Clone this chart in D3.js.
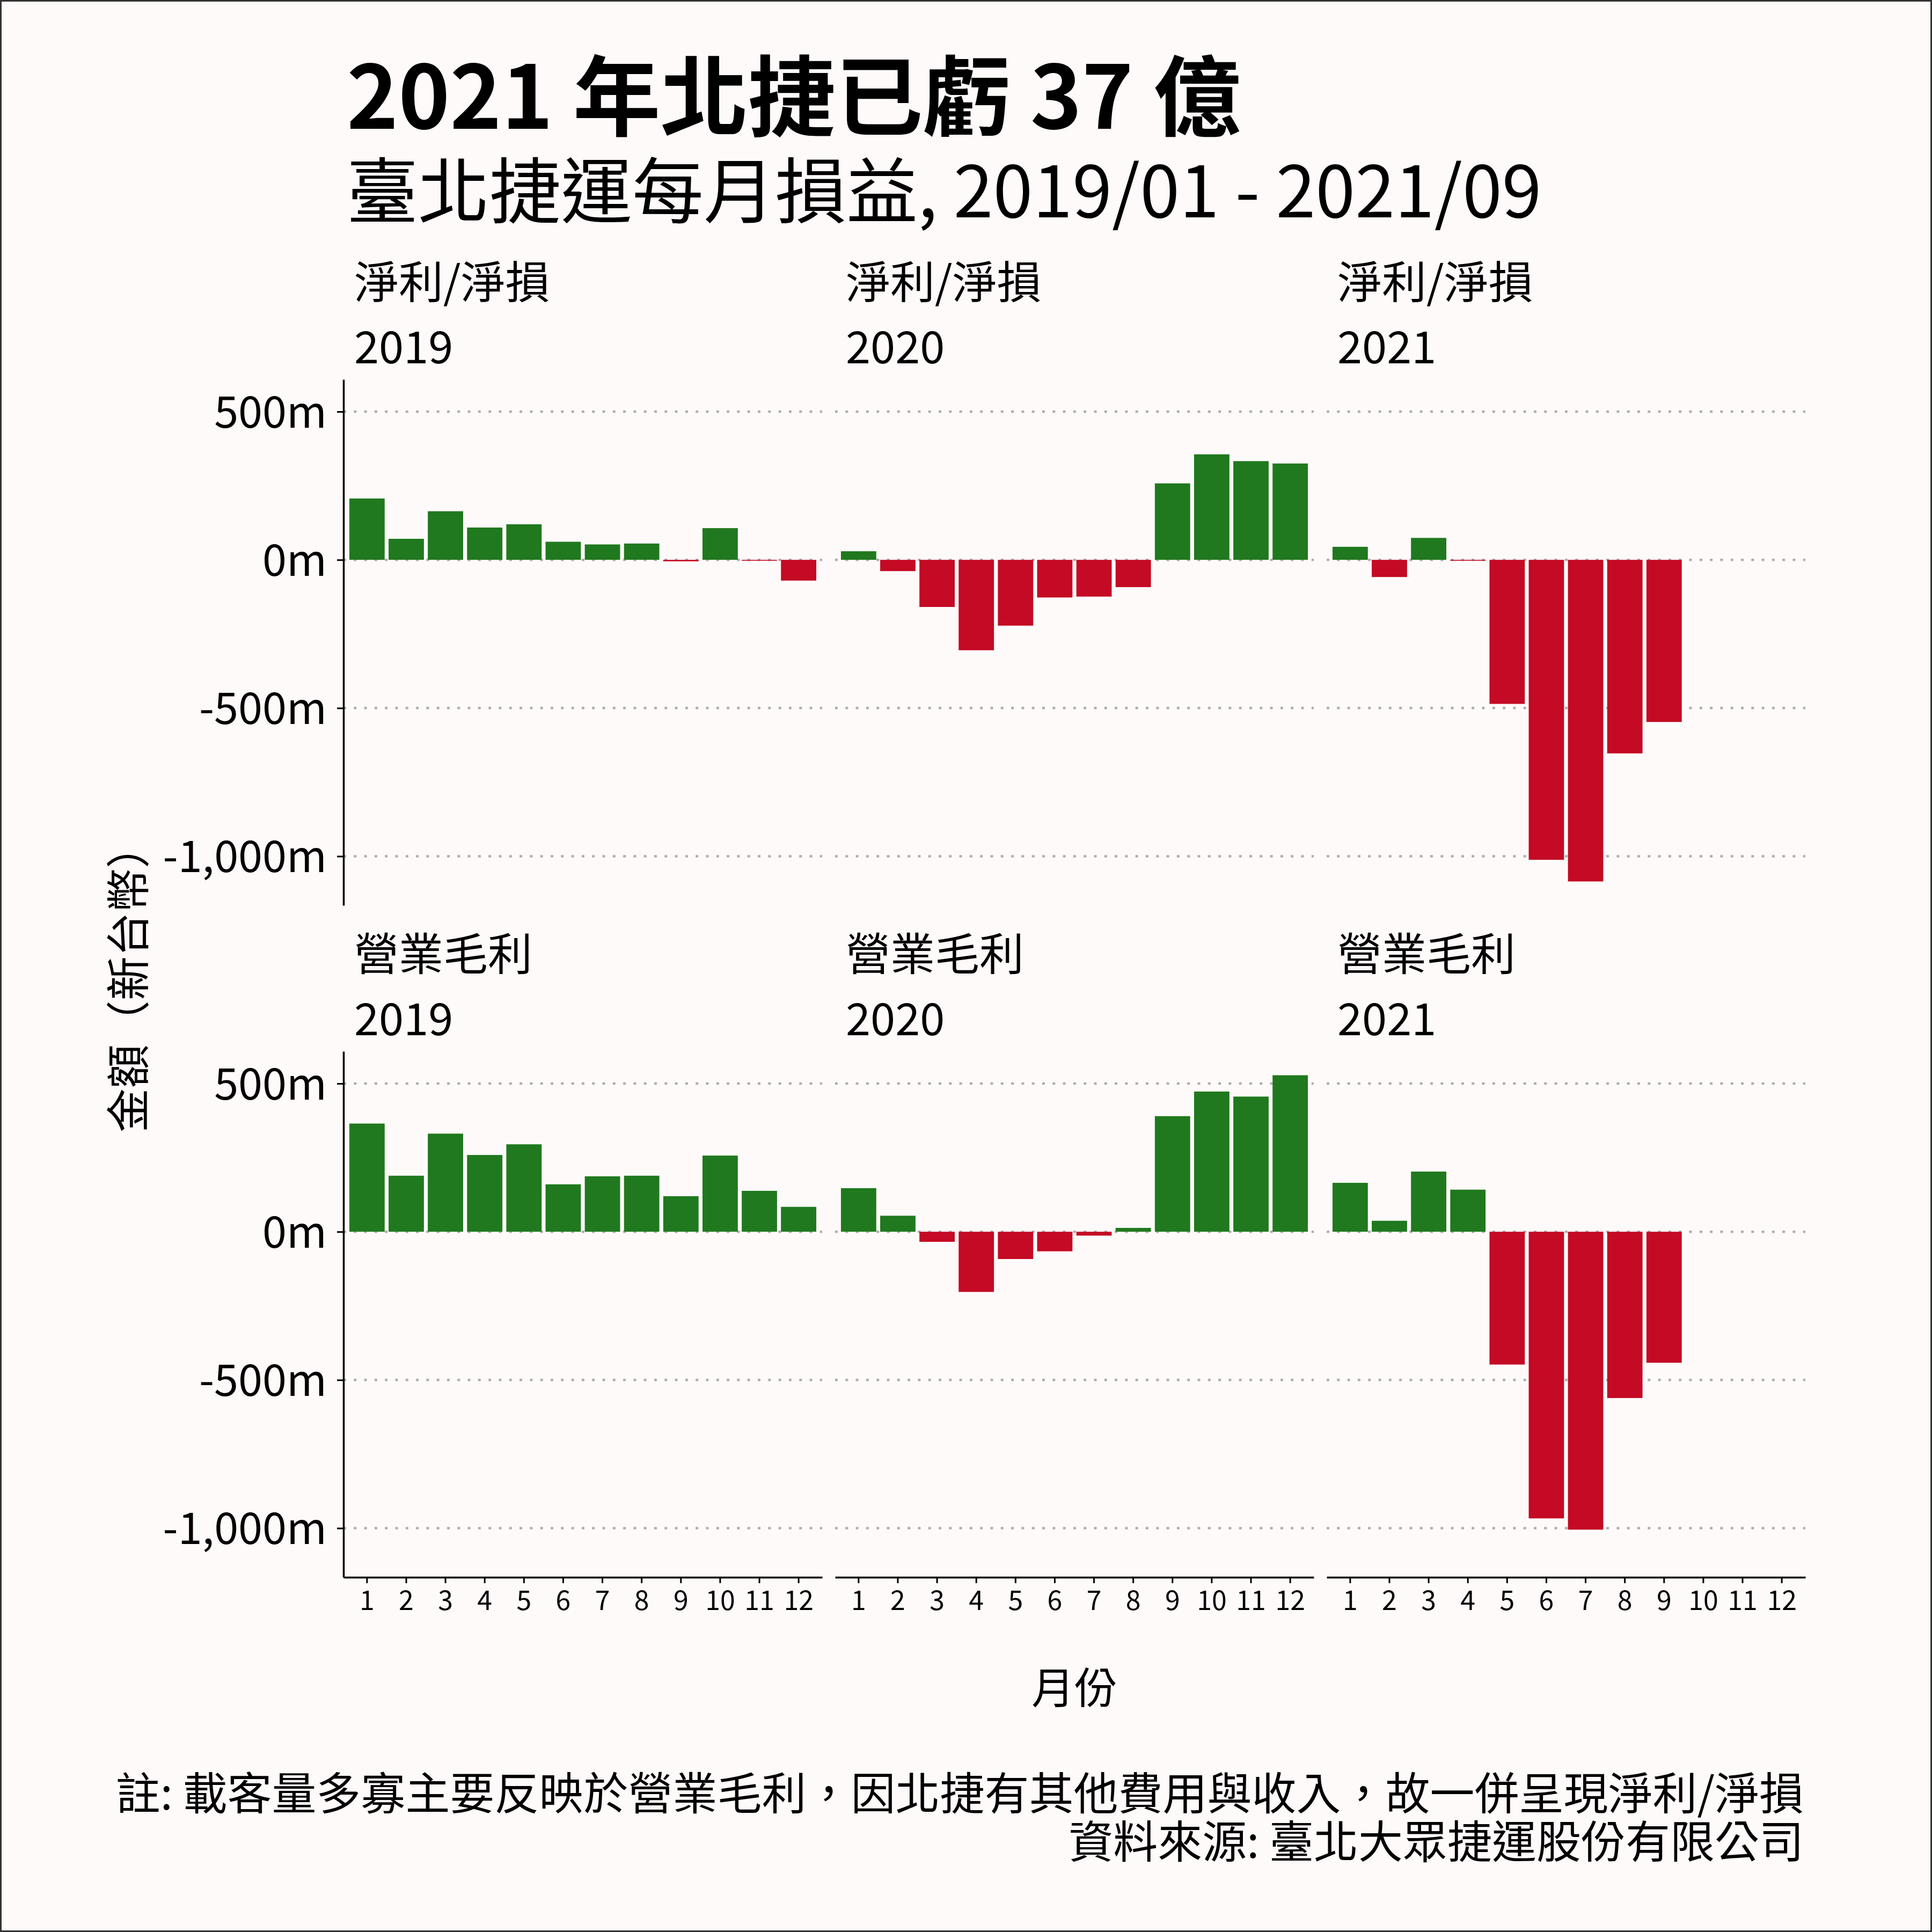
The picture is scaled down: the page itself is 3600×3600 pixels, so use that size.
<!DOCTYPE html>
<html>
<head>
<meta charset="utf-8">
<script src="https://cdn.jsdelivr.net/npm/d3@7"></script>
<style>
  body { margin: 0; background: #fffafa; }
  text { font-family: "Noto Sans CJK TC", "Noto Sans", sans-serif; fill: #000; }
  .axis path, .axis line { stroke: #000; }
</style>
</head>
<body>
<div id="chart"></div>
<script>

// monthly values, million NTD
const months = ["1", "2", "3", "4", "5", "6", "7", "8", "9", "10", "11", "12"]
const years = ["2019", "2020", "2021"]
const metrics = ["淨利/淨損", "營業毛利"]

const net2019 = [207, 71, 164, 109, 120, 61, 52, 55, -5, 107, -3, -70]
const net2020 = [29, -38, -159, -305, -222, -127, -124, -92, 258, 356, 333, 325]
const net2021 = [44, -58, 74, -3, -486, -1012, -1085, -653, -547]

const gross2019 = [365, 189, 331, 259, 295, 160, 187, 189, 120, 257, 138, 84]
const gross2020 = [147, 54, -34, -203, -92, -66, -13, 13, 390, 473, 456, 528]
const gross2021 = [165, 37, 203, 142, -448, -967, -1005, -561, -442]

const yTicks = [500, 0, -500, -1000]

const titleText = "2021 年北捷已虧 37 億"
const subtitleText = "臺北捷運每月損益, 2019/01 - 2021/09"
const yTitle = "金額（新台幣）"
const xTitle = "月份"
const captionLines = [
    "註: 載客量多寡主要反映於營業毛利，因北捷有其他費用與收入，故一併呈現淨利/淨損",
    "資料來源: 臺北大眾捷運股份有限公司"
]

const rows = [
    [net2019, net2020, net2021],
    [gross2019, gross2020, gross2021]
]

const W = 3600, H = 3600
const panelLeft = [640, 1556, 2472]
const panelTop = [707, 1959]
const panelW = 892, panelH = 980
const green = "#20791e", red = "#c40a24"

// ggplot style hyphen minus + thousands comma
const loc = d3.formatLocale({decimal: ".", thousands: ",", grouping: [3], currency: ["", ""], minus: "-"})
const fmt = (d) => loc.format(",")(d) + "m"

const svg = d3.select("#chart").append("svg")
    .attr("width", W)
    .attr("height", H)

svg.append("rect")
    .attr("width", W).attr("height", H)
    .attr("fill", "#fffafa")

// shared y domain with 5% expansion, like facet_wrap fixed scales
let allVals = rows.flat(2)
let ext = d3.extent(allVals)
let pad = (ext[1] - ext[0]) * 0.05

function draw_panel(r, c) {
    const vals = rows[r][c]
    const x0 = panelLeft[c], y0 = panelTop[r]

    const x = d3.scaleBand()
        .domain(months)
        .range([x0, x0 + panelW])
        .paddingInner(0.1)
        .paddingOuter(0.15)

    const y = d3.scaleLinear()
        .domain([ext[0] - pad, ext[1] + pad])
        .range([y0 + panelH, y0])

    const g = svg.append("g")

    // dotted grid
    g.selectAll(".grid")
        .data(yTicks).enter()
        .append("line")
        .attr("x1", x0).attr("x2", x0 + panelW)
        .attr("y1", (d) => y(d)).attr("y2", (d) => y(d))
        .attr("stroke", "#aeaeae")
        .attr("stroke-width", 4.5)
        .attr("stroke-dasharray", "5 14.3")

    g.selectAll(".bar")
        .data(vals).enter()
        .append("rect")
        .attr("x", (d, i) => x(months[i]))
        .attr("width", x.bandwidth())
        .attr("y", (d) => y(Math.max(0, d)))
        .attr("height", (d) => Math.abs(y(d) - y(0)))
        .attr("fill", (d) => d >= 0 ? green : red)

    // strip: metric + year
    g.append("text")
        .attr("x", x0 + 20).attr("y", y0 - 151)
        .attr("font-size", 83)
        .text(metrics[r])
    g.append("text")
        .attr("x", x0 + 20).attr("y", y0 - 30)
        .attr("font-size", 83)
        .text(years[c])

    if (c == 0) {
        const ay = g.append("g")
            .attr("class", "axis")
            .attr("transform", "translate(" + x0 + ",0)")
            .call(d3.axisLeft(y).tickValues(yTicks).tickFormat(fmt).tickSize(12).tickSizeOuter(0).tickPadding(19))
        ay.select(".domain").attr("stroke-width", 3.5)
        ay.selectAll(".tick line").attr("stroke-width", 3)
        ay.selectAll(".tick text")
            .attr("font-size", 81)
            .attr("font-family", "Noto Sans CJK TC")
            .attr("fill", "#000")
            .attr("dy", "0.36em")
    }

    if (r == 1) {
        const ax = g.append("g")
            .attr("class", "axis")
            .attr("transform", "translate(0," + (y0 + panelH) + ")")
            .call(d3.axisBottom(x).tickSize(11).tickSizeOuter(0).tickPadding(13))
        ax.select(".domain").attr("stroke-width", 3.5)
        ax.selectAll(".tick line").attr("stroke-width", 3)
        ax.selectAll(".tick text")
            .attr("font-size", 50)
            .attr("font-family", "Noto Sans CJK TC")
            .attr("fill", "#000")
            .attr("dy", "0.73em")
    }
}

for (let r = 0; r < rows.length; r++) {
    for (let c = 0; c < years.length; c++) {
        draw_panel(r, c)
    }
}

// titles
svg.append("text")
    .attr("x", 646).attr("y", 240)
    .attr("font-size", 163)
    .attr("font-weight", 700)
    .text(titleText)

svg.append("text")
    .attr("x", 646).attr("y", 405)
    .attr("font-size", 133)
    .text(subtitleText)

svg.append("text")
    .attr("transform", "translate(269," + ((panelTop[0] + panelTop[1] + panelH) / 2) + ") rotate(-90)")
    .attr("text-anchor", "middle")
    .attr("font-size", 82)
    .text(yTitle)

svg.append("text")
    .attr("x", (panelLeft[0] + panelLeft[2] + panelW) / 2).attr("y", 3174)
    .attr("text-anchor", "middle")
    .attr("font-size", 80)
    .text(xTitle)

svg.selectAll(".caption")
    .data(captionLines).enter()
    .append("text")
    .attr("x", 3361)
    .attr("y", (d, i) => 3372 + i * 90)
    .attr("text-anchor", "end")
    .attr("font-size", 83)
    .text((d) => d)

// thin frame round the picture
svg.append("rect")
    .attr("x", 1.5).attr("y", 1.5)
    .attr("width", W - 3).attr("height", H - 3)
    .attr("fill", "none")
    .attr("stroke", "#333")
    .attr("stroke-width", 3)

</script>
</body>
</html>
